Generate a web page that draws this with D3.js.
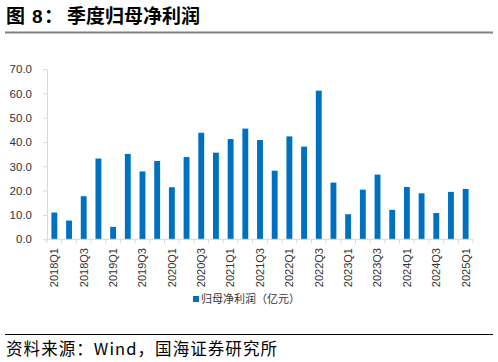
<!DOCTYPE html>
<html>
<head>
<meta charset="utf-8">
<script src="https://cdn.jsdelivr.net/npm/d3@7/dist/d3.min.js"></script>
<style>
  html, body { margin: 0; padding: 0; background: #fff; }
  svg { display: block; }
</style>
</head>
<body>
<svg id="chart" width="498" height="362"></svg>
<script>
const quarters = ["2018Q1","2018Q2","2018Q3","2018Q4","2019Q1","2019Q2","2019Q3","2019Q4",
  "2020Q1","2020Q2","2020Q3","2020Q4","2021Q1","2021Q2","2021Q3","2021Q4",
  "2022Q1","2022Q2","2022Q3","2022Q4","2023Q1","2023Q2","2023Q3","2023Q4",
  "2024Q1","2024Q2","2024Q3","2024Q4","2025Q1"];
const profit = [11.0, 7.7, 17.7, 33.2, 5.1, 35.1, 27.9, 32.2,
  21.4, 33.8, 43.8, 35.6, 41.2, 45.5, 40.8, 28.2,
  42.3, 38.1, 61.1, 23.3, 10.3, 20.4, 26.6, 12.1,
  21.5, 18.9, 10.8, 19.5, 20.7];
const yTicks = [0, 10, 20, 30, 40, 50, 60, 70];
const xLabels = quarters.filter((q, i) => i % 2 === 0);
const seriesName = "归母净利润（亿元）";
const titleText = "季度归母净利润";
const sourceText = "资料来源：Wind，国海证券研究所";

(function () {
const svg = d3.select("#chart");
const pL = 47, pR = 473, pT = 69, pB = 239.3;
const latin = "'Liberation Sans', Arial, 'Noto Sans CJK SC', sans-serif";
const cjk = "'Noto Sans CJK SC', 'Liberation Sans', sans-serif";

// Title
const t = svg.append("text").attr("y", 23).attr("font-family", cjk)
  .attr("font-size", 19).attr("font-weight", 700).attr("fill", "#000");
t.append("tspan").attr("x", 6).text("图");
t.append("tspan").attr("x", 32).attr("font-family", latin).text("8");
t.append("tspan").attr("x", 44).text("：");
t.append("tspan").attr("x", 67).text(titleText);
svg.append("line").attr("x1", 5).attr("x2", 493).attr("y1", 32.5).attr("y2", 32.5)
  .attr("stroke", "#808080").attr("stroke-width", 2);

// Scales
const x = d3.scaleBand().domain(quarters).range([pL, pR]).paddingInner(0.6).paddingOuter(0.3);
const y = d3.scaleLinear().domain([0, 70]).range([pB, pT]);

// Y axis
const ya = svg.append("g").attr("transform", `translate(${pL},0)`)
  .call(d3.axisLeft(y).tickValues(yTicks).tickFormat(d3.format(".1f")).tickSize(4).tickPadding(11).tickSizeOuter(0));
ya.select(".domain").attr("stroke", "#d9d9d9");
ya.selectAll(".tick line").attr("stroke", "#d9d9d9");
ya.selectAll("text").attr("font-family", latin).attr("font-size", 11.5).attr("fill", "#333");

// Bars
svg.append("g").selectAll("rect").data(quarters).join("rect")
  .attr("x", d => x(d)).attr("width", x.bandwidth())
  .attr("y", (d, i) => y(profit[i])).attr("height", (d, i) => y(0) - y(profit[i]))
  .attr("fill", "#0070C0");

// X axis line and boundary ticks
const bounds = d3.scaleLinear().domain([0, quarters.length]).range([pL, pR]);
svg.append("line").attr("x1", pL).attr("x2", pR).attr("y1", pB).attr("y2", pB)
  .attr("stroke", "#d9d9d9");
svg.append("g").selectAll("line").data(d3.range(quarters.length + 1)).join("line")
  .attr("x1", d => bounds(d)).attr("x2", d => bounds(d))
  .attr("y1", pB).attr("y2", pB + 4).attr("stroke", "#d9d9d9");

// X labels
svg.append("g").selectAll("text").data(xLabels).join("text")
  .attr("transform", d => `translate(${x(d) + x.bandwidth() / 2},248) rotate(-90)`)
  .attr("text-anchor", "end").attr("dy", "0.35em")
  .attr("font-family", latin).attr("font-size", 11).attr("fill", "#333")
  .text(d => d);

// Legend
svg.append("rect").attr("x", 193).attr("y", 296).attr("width", 6).attr("height", 6).attr("fill", "#0070C0");
svg.append("text").attr("x", 201).attr("y", 299).attr("dy", "0.35em")
  .attr("font-family", cjk).attr("font-size", 11).attr("fill", "#333").text(seriesName);

// Footer
svg.append("line").attr("x1", 5).attr("x2", 493).attr("y1", 334.5).attr("y2", 334.5)
  .attr("stroke", "#000").attr("stroke-width", 1);
svg.append("text").attr("x", 6).attr("y", 355).attr("font-family", cjk)
  .attr("font-size", 16.5).attr("fill", "#000")
  .attr("textLength", 271).attr("lengthAdjust", "spacing").text(sourceText);
})();
</script>
</body>
</html>
